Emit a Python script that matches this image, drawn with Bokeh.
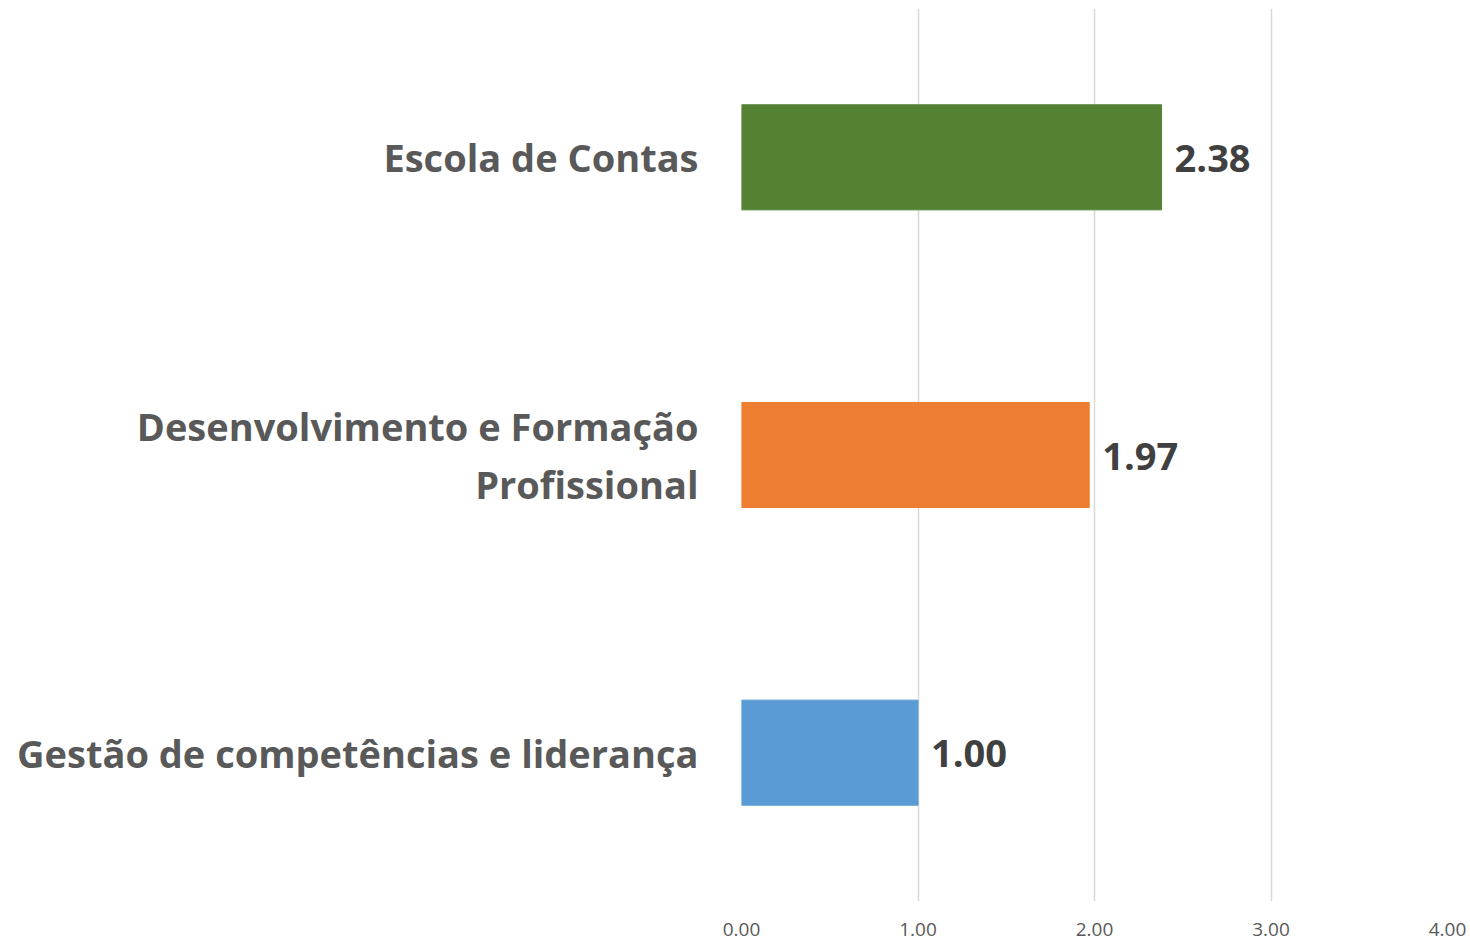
from bokeh.plotting import figure
from bokeh.models import ColumnDataSource, LabelSet, FixedTicker, FactorRange, NumeralTickFormatter
from bokeh.core.properties import value
from bokeh.embed import file_html
from bokeh.resources import INLINE

categories = ["Gestão de competências e liderança",
              "Desenvolvimento e Formação\nProfissional",
              "Escola de Contas"]
values = [1.00, 1.97, 2.38]
colors = ["#5B9BD5", "#ED7D31", "#548235"]
value_text = ["1.00", "1.97", "2.38"]
ticks = [0, 1, 2, 3, 4]

src = ColumnDataSource(dict(cat=categories, val=values, col=colors, txt=value_text))

p = figure(width=1470, height=944, y_range=FactorRange(*categories), x_range=(0, 4),
           output_backend="svg", toolbar_location=None,
           min_border_left=741, min_border_right=23, min_border_top=8, min_border_bottom=43)
p.outline_line_color = None
p.background_fill_color = "white"
p.border_fill_color = "white"

p.hbar(y="cat", right="val", left=0, height=0.353, color="col", source=src)

p.ygrid.grid_line_color = None
p.xgrid.ticker = FixedTicker(ticks=ticks)
p.xgrid.grid_line_color = "#d9d9d9"
p.xgrid.grid_line_width = 1.5

p.yaxis.axis_line_color = None
p.yaxis.major_tick_line_color = None
p.yaxis.minor_tick_line_color = None
p.yaxis.major_label_standoff = 37
p.yaxis.major_label_text_font = "Open Sans"
p.yaxis.major_label_text_font_style = "bold"
p.yaxis.major_label_text_font_size = "38px"
p.yaxis.major_label_text_color = "#595959"
p.yaxis.major_label_text_line_height = 1.1

p.xaxis.ticker = FixedTicker(ticks=ticks)
p.xaxis.formatter = NumeralTickFormatter(format="0.00")
p.xaxis.axis_line_color = None
p.xaxis.major_tick_line_color = None
p.xaxis.minor_tick_line_color = None
p.xaxis.major_label_standoff = 15
p.xaxis.major_label_text_font = "Open Sans"
p.xaxis.major_label_text_font_size = "19px"
p.xaxis.major_label_text_color = "#595959"

labels = LabelSet(x="val", y="cat", text="txt", source=src, x_offset=13, y_offset=-1,
                  text_align="left", text_baseline="middle",
                  text_font=value("Open Sans"), text_font_style="bold", text_font_size="38px",
                  text_color="#404040")
p.add_layout(labels)

open("out.html", "w").write(file_html(p, INLINE))
